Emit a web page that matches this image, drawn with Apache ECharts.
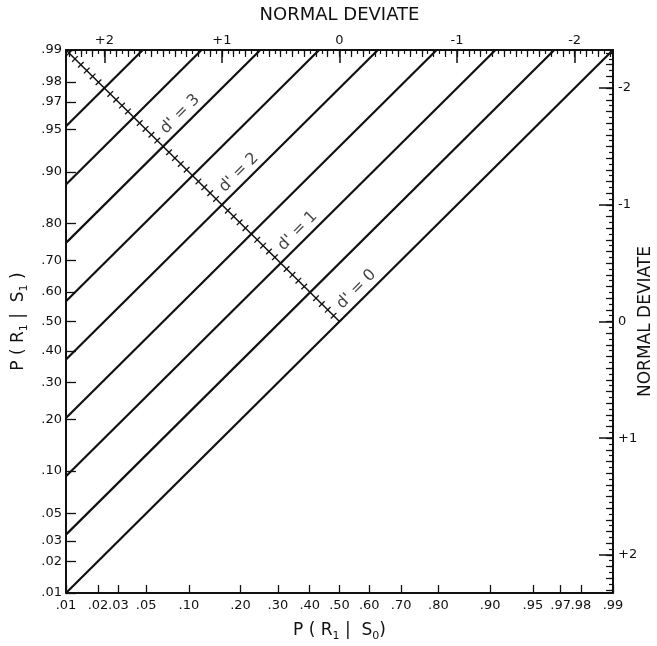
<!DOCTYPE html>
<html>
<head>
<meta charset="utf-8">
<script src="https://cdn.jsdelivr.net/npm/echarts@6/dist/echarts.min.js"></script>
<style>
    html, body { margin: 0; padding: 0; background: #fff; }
    #rocChart { width: 657px; height: 646px; }
</style>
</head>
<body>
<div id="rocChart"></div>
<script>
    // probability tick labels (both probability axes)
    const probLabels = ['.01', '.02', '.03', '.05', '.10', '.20', '.30', '.40', '.50', '.60', '.70', '.80', '.90', '.95', '.97', '.98', '.99']
    const probValues = [0.01, 0.02, 0.03, 0.05, 0.10, 0.20, 0.30, 0.40, 0.50, 0.60, 0.70, 0.80, 0.90, 0.95, 0.97, 0.98, 0.99]
    // normal deviate tick labels (top and right axes)
    const deviateTicks = [-2, -1, 0, 1, 2]
    // iso-sensitivity lines
    const dPrimes = [0, 0.5, 1, 1.5, 2, 2.5, 3, 3.5, 4]
    const dLabels = [0, 1, 2, 3]
    // d' scale marks along the negative diagonal
    const hatchMarks = [0, 0.1, 0.2, 0.3, 0.4, 0.5, 0.6, 0.7, 0.8, 0.9, 1, 1.1, 1.2, 1.3, 1.4, 1.5, 1.6, 1.7, 1.8, 1.9, 2, 2.1, 2.2, 2.3, 2.4, 2.5, 2.6, 2.7, 2.8, 2.9, 3, 3.1, 3.2, 3.3, 3.4, 3.5, 3.6, 3.7, 3.8, 3.9, 4, 4.1, 4.2, 4.3, 4.4, 4.5, 4.6]

    // inverse normal (Acklam) -> maps probabilities onto the normal-deviate scale
    function probit (p) {
        const a = [-3.969683028665376e+01, 2.209460984245205e+02, -2.759285104469687e+02, 1.383577518672690e+02, -3.066479806614716e+01, 2.506628277459239e+00]
        const b = [-5.447609879822406e+01, 1.615858368580409e+02, -1.556989798598866e+02, 6.680131188771972e+01, -1.328068155288572e+01]
        const c = [-7.784894002430293e-03, -3.223964580411365e-01, -2.400758277161838e+00, -2.549732539343734e+00, 4.374664141464968e+00, 2.938163982698783e+00]
        const d = [7.784695709041462e-03, 3.224671290700398e-01, 2.445134137142996e+00, 3.754408661907416e+00]
        const tail = q => (((((c[0] * q + c[1]) * q + c[2]) * q + c[3]) * q + c[4]) * q + c[5]) / ((((d[0] * q + d[1]) * q + d[2]) * q + d[3]) * q + 1)
        if (p < 0.02425) return tail(Math.sqrt(-2 * Math.log(p)))
        if (p > 1 - 0.02425) return -tail(Math.sqrt(-2 * Math.log(1 - p)))
        const q = p - 0.5
        const r = q * q
        return (((((a[0] * r + a[1]) * r + a[2]) * r + a[3]) * r + a[4]) * r + a[5]) * q / (((((b[0] * r + b[1]) * r + b[2]) * r + b[3]) * r + b[4]) * r + 1)
    }

    const Z = probit(0.99)
    const probZ = probValues.map(probit)
    const tenths = []
    const twentieths = []
    for (let k = -46; k <= 46; k++) {
        twentieths.push(k * 0.05)
        if (k % 2 === 0) tenths.push(k * 0.05)
    }

    const ink = '#111'
    const font = 'DejaVu Sans'

    const probFormatter = v => {
        const i = probZ.findIndex(z => Math.abs(z - v) < 1e-6)
        return i >= 0 ? probLabels[i] : ''
    }
    const deviateFormatter = v => (v > 0 ? '+' + v : String(v))

    const subRich = {
        n: { fontSize: 17, fontFamily: font, color: ink, lineHeight: 20, verticalAlign: 'top' },
        s: { fontSize: 11, fontFamily: font, color: ink, lineHeight: 20, verticalAlign: 'bottom' }
    }

    function minorAxis (position, values, length) {
        return {
            type: 'value',
            position: position,
            offset: 0,
            min: -Z,
            max: Z,
            inverse: true,
            axisLine: { show: false, onZero: false },
            axisLabel: { show: false },
            splitLine: { show: false },
            axisTick: {
                show: true,
                inside: true,
                length: length,
                customValues: values,
                lineStyle: { color: ink, width: 1.2 }
            }
        }
    }

    const myChart = echarts.init(document.getElementById('rocChart'))
    const option = {
        animation: false,
        backgroundColor: '#fff',
        grid: {
            left: 66,
            right: 44,
            top: 50,
            bottom: 53,
            containLabel: false,
            outerBoundsMode: 'none'
        },
        xAxis: [
            {
                type: 'value',
                position: 'bottom',
                min: -Z,
                max: Z,
                name: '{n|P ( R}{s|1}{n| |  S}{s|0}{n|)}',
                nameLocation: 'middle',
                nameGap: 29,
                nameMoveOverlap: false,
                nameTextStyle: { rich: subRich },
                axisLine: { onZero: false, lineStyle: { color: ink, width: 2 } },
                axisTick: { inside: true, length: 8, customValues: probZ, lineStyle: { color: ink, width: 1.3 } },
                axisLabel: { customValues: probZ, formatter: probFormatter, margin: 6, fontSize: 13, fontFamily: font, color: ink },
                splitLine: { show: false }
            },
            {
                type: 'value',
                position: 'top',
                offset: 0,
                min: -Z,
                max: Z,
                inverse: true,
                name: 'NORMAL DEVIATE',
                nameLocation: 'middle',
                nameGap: 26,
                nameMoveOverlap: false,
                nameTextStyle: { fontSize: 18, fontFamily: font, color: ink },
                axisLine: { onZero: false, lineStyle: { color: ink, width: 2 } },
                axisTick: { inside: true, length: 13, customValues: deviateTicks, lineStyle: { color: ink, width: 1.5 } },
                axisLabel: { customValues: deviateTicks, formatter: deviateFormatter, margin: 3, fontSize: 13, fontFamily: font, color: ink },
                splitLine: { show: false }
            },
            minorAxis('top', tenths, 7),
            minorAxis('top', twentieths, 4)
        ],
        yAxis: [
            {
                type: 'value',
                position: 'left',
                min: -Z,
                max: Z,
                name: '{n|P ( R}{s|1}{n| |  S}{s|1}{n| )}',
                nameLocation: 'middle',
                nameRotate: 90,
                nameGap: 36,
                nameMoveOverlap: false,
                nameTextStyle: { rich: subRich },
                axisLine: { onZero: false, lineStyle: { color: ink, width: 2 } },
                axisTick: { inside: true, length: 10, customValues: probZ, lineStyle: { color: ink, width: 1.3 } },
                axisLabel: { customValues: probZ, formatter: probFormatter, margin: 4, fontSize: 13, fontFamily: font, color: ink },
                splitLine: { show: false }
            },
            {
                type: 'value',
                position: 'right',
                offset: 0,
                min: -Z,
                max: Z,
                inverse: true,
                name: 'NORMAL DEVIATE',
                nameLocation: 'middle',
                nameRotate: 90,
                nameGap: 24,
                nameMoveOverlap: false,
                nameTextStyle: { fontSize: 17, fontFamily: font, color: ink },
                axisLine: { onZero: false, lineStyle: { color: ink, width: 2 } },
                axisTick: { inside: true, length: 14, customValues: deviateTicks, lineStyle: { color: ink, width: 1.5 } },
                axisLabel: { customValues: deviateTicks, formatter: deviateFormatter, margin: 5, fontSize: 13, fontFamily: font, color: ink },
                splitLine: { show: false }
            },
            minorAxis('right', tenths, 7),
            minorAxis('right', twentieths, 4)
        ],
        series: [
            // iso-d' lines: z(hit) = z(false alarm) + d'
            ...dPrimes.map(d => ({
                type: 'line',
                silent: true,
                showSymbol: false,
                data: [[-Z, -Z + d], [Z - d, Z]],
                lineStyle: { color: ink, width: 2.2 }
            })),
            // negative diagonal carrying the d' scale
            {
                type: 'line',
                silent: true,
                showSymbol: false,
                data: [[-Z, Z], [0, 0]],
                lineStyle: { color: ink, width: 1.5 }
            },
            {
                type: 'lines',
                coordinateSystem: 'cartesian2d',
                silent: true,
                data: hatchMarks.map(d => ({
                    coords: [[-d / 2 - 0.024, d / 2 - 0.024], [-d / 2 + 0.024, d / 2 + 0.024]]
                })),
                lineStyle: { color: ink, width: 1.3, opacity: 1 }
            },
            {
                type: 'scatter',
                silent: true,
                symbolSize: 0,
                data: dLabels.map(d => [-d / 2 + 0.21 - 0.066, d / 2 + 0.21 + 0.066, d]),
                label: {
                    show: true,
                    position: 'inside',
                    rotate: 45,
                    fontSize: 16,
                    fontFamily: font,
                    color: ink,
                    formatter: p => "d' = " + p.value[2]
                }
            }
        ]
    }
    myChart.setOption(option)
</script>
</body>
</html>
